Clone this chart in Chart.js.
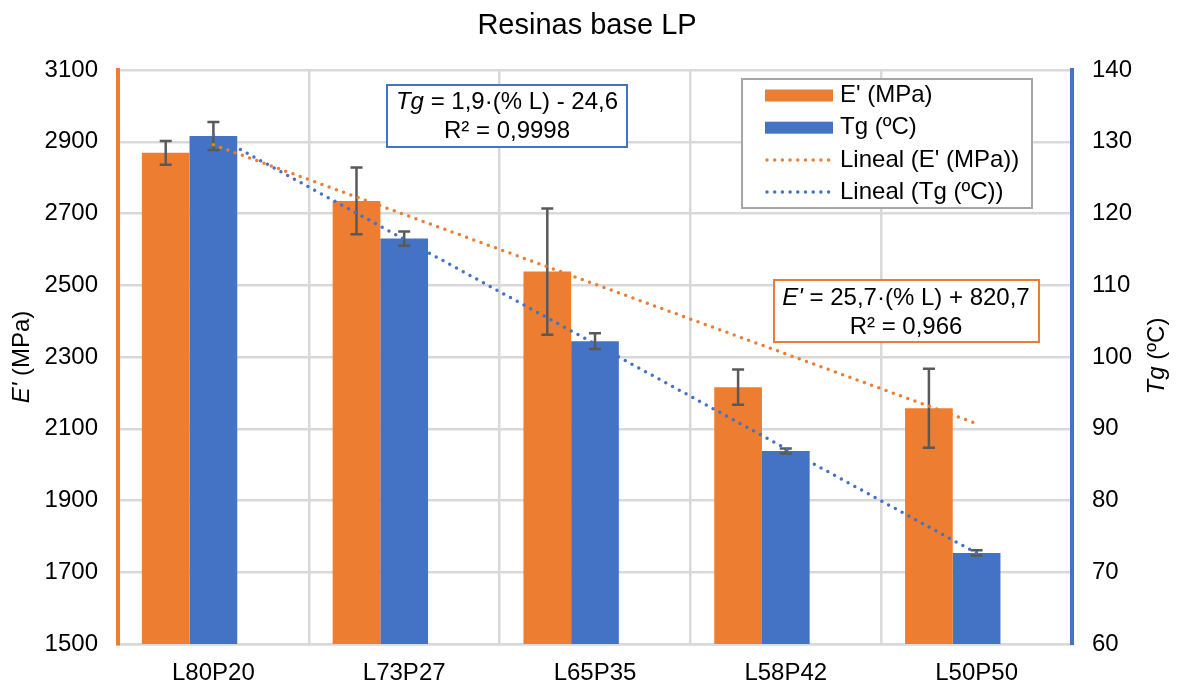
<!DOCTYPE html>
<html lang="es">
<head>
    <meta charset="UTF-8">
    <title>Resinas base LP</title>
    <script src="https://cdn.jsdelivr.net/npm/chart.js"></script>
    <style>
        html, body { margin: 0; padding: 0; background: #fff; }
        #wrap { width: 1179px; height: 686px; }
    </style>
</head>
<body>
    <div id="wrap">
        <canvas id="chart" width="1179" height="686"></canvas>
    </div>

    <script>
        // Data
        const categories = ['L80P20', 'L73P27', 'L65P35', 'L58P42', 'L50P50'];
        const modulusE = [2869, 2735, 2538, 2216, 2157];      // E' (MPa), left axis
        const modulusErr = [33, 93, 176, 49, 110];
        const tgValues = [130.8, 116.5, 102.2, 86.9, 72.7];   // Tg (ºC), right axis
        const tgErr = [1.95, 1.0, 1.1, 0.35, 0.35];
        const leftRange = [1500, 3100, 200];
        const rightRange = [60, 140, 10];

        const ORANGE = '#ED7D31';
        const BLUE = '#4472C4';
        const GRID = '#d9d9d9';
        const FONT = '"Liberation Sans", Arial, sans-serif';

        // Excel "Lineal" trendline: least squares over category index
        function linearFit(values) {
            const n = values.length;
            const xm = (n - 1) / 2;
            const ym = values.reduce((a, b) => a + b, 0) / n;
            let sxy = 0, sxx = 0;
            values.forEach((v, i) => { sxy += (i - xm) * (v - ym); sxx += (i - xm) * (i - xm); });
            const slope = sxy / sxx;
            return values.map((v, i) => ym + slope * (i - xm));
        }

        // draw text made of italic / normal parts, centered on cx
        function drawRich(ctx, parts, cx, cy, size) {
            let total = 0;
            parts.forEach(p => {
                ctx.font = (p.i ? 'italic ' : '') + size + 'px ' + FONT;
                p.w = ctx.measureText(p.t).width;
                total += p.w;
            });
            let x = cx - total / 2;
            ctx.textAlign = 'left';
            ctx.textBaseline = 'middle';
            parts.forEach(p => {
                ctx.font = (p.i ? 'italic ' : '') + size + 'px ' + FONT;
                ctx.fillText(p.t, x, cy);
                x += p.w;
            });
        }

        const errorBars = {
            id: 'errorBars',
            afterDatasetDraw(chart, args) {
                const errs = args.index === 0 ? modulusErr : args.index === 1 ? tgErr : null;
                if (!errs) return;
                const ds = chart.data.datasets[args.index];
                const scale = chart.scales[ds.yAxisID];
                const ctx = chart.ctx;
                ctx.save();
                ctx.strokeStyle = '#595959';
                ctx.lineWidth = 2.5;
                args.meta.data.forEach((bar, i) => {
                    const v = ds.data[i];
                    const top = scale.getPixelForValue(v + errs[i]);
                    const bot = scale.getPixelForValue(v - errs[i]);
                    ctx.beginPath();
                    ctx.moveTo(bar.x, top); ctx.lineTo(bar.x, bot);
                    ctx.moveTo(bar.x - 6, top); ctx.lineTo(bar.x + 6, top);
                    ctx.moveTo(bar.x - 6, bot); ctx.lineTo(bar.x + 6, bot);
                    ctx.stroke();
                });
                ctx.restore();
            }
        };

        const decorations = {
            id: 'decorations',
            afterDraw(chart) {
                const ctx = chart.ctx;
                ctx.save();
                ctx.fillStyle = '#000';

                // title
                ctx.font = '29px ' + FONT;
                ctx.textAlign = 'center';
                ctx.textBaseline = 'middle';
                ctx.fillText('Resinas base LP', 587, 26);

                // axis titles
                ctx.save();
                ctx.translate(22, 357);
                ctx.rotate(-Math.PI / 2);
                drawRich(ctx, [{ t: "E'", i: true }, { t: ' (MPa)' }], 0, 0, 24);
                ctx.restore();
                ctx.save();
                ctx.translate(1157, 356);
                ctx.rotate(-Math.PI / 2);
                drawRich(ctx, [{ t: 'Tg', i: true }, { t: ' (ºC)' }], 0, 0, 24);
                ctx.restore();

                // legend
                ctx.fillStyle = '#fff';
                ctx.fillRect(742, 79, 290, 129);
                ctx.strokeStyle = '#a6a6a6';
                ctx.lineWidth = 2;
                ctx.strokeRect(742, 79, 290, 129);
                const rows = [
                    { label: "E' (MPa)", color: ORANGE, bar: true },
                    { label: 'Tg (ºC)', color: BLUE, bar: true },
                    { label: "Lineal (E' (MPa))", color: ORANGE },
                    { label: 'Lineal (Tg (ºC))', color: BLUE }
                ];
                rows.forEach((r, k) => {
                    const y = 95.5 + k * 32.2;
                    if (r.bar) {
                        ctx.fillStyle = r.color;
                        ctx.fillRect(765, y - 6, 68, 12);
                    } else {
                        ctx.strokeStyle = r.color;
                        ctx.lineWidth = 3.5;
                        ctx.lineCap = 'round';
                        ctx.setLineDash([0, 7.7]);
                        ctx.beginPath();
                        ctx.moveTo(767, y); ctx.lineTo(833, y);
                        ctx.stroke();
                        ctx.setLineDash([]);
                    }
                    ctx.fillStyle = '#000';
                    ctx.font = '24px ' + FONT;
                    ctx.textAlign = 'left';
                    ctx.textBaseline = 'middle';
                    ctx.fillText(r.label, 840, y);
                });

                // trendline equation boxes
                ctx.fillStyle = '#fff';
                ctx.fillRect(387, 85, 240, 62);
                ctx.strokeStyle = BLUE;
                ctx.lineWidth = 2;
                ctx.strokeRect(387, 85, 240, 62);
                ctx.fillStyle = '#000';
                drawRich(ctx, [{ t: 'Tg', i: true }, { t: ' = 1,9·(% L) - 24,6' }], 507, 102, 24);
                drawRich(ctx, [{ t: 'R² = 0,9998' }], 507, 131, 24);

                ctx.fillStyle = '#fff';
                ctx.fillRect(774, 280, 265, 62);
                ctx.strokeStyle = ORANGE;
                ctx.strokeRect(774, 280, 265, 62);
                ctx.fillStyle = '#000';
                drawRich(ctx, [{ t: "E'", i: true }, { t: ' = 25,7·(% L) + 820,7' }], 906, 298, 24);
                drawRich(ctx, [{ t: 'R² = 0,966' }], 906, 327, 24);

                ctx.restore();
            }
        };

        const tickFont = { family: FONT, size: 24 };

        new Chart(document.getElementById('chart'), {
            type: 'bar',
            data: {
                labels: categories,
                datasets: [
                    { label: "E' (MPa)", data: modulusE, yAxisID: 'y', backgroundColor: ORANGE, order: 1 },
                    { label: 'Tg (ºC)', data: tgValues, yAxisID: 'y2', backgroundColor: BLUE, order: 1 },
                    { label: '', data: categories.map(() => null), yAxisID: 'y', order: 1 },
                    {
                        type: 'line', label: "Lineal (E' (MPa))", data: linearFit(modulusE), yAxisID: 'y',
                        borderColor: ORANGE, borderWidth: 3.5, borderDash: [0, 7.7], borderCapStyle: 'round',
                        pointRadius: 0, fill: false, tension: 0, order: 0
                    },
                    {
                        type: 'line', label: 'Lineal (Tg (ºC))', data: linearFit(tgValues), yAxisID: 'y2',
                        borderColor: BLUE, borderWidth: 3.5, borderDash: [0, 7.7], borderCapStyle: 'round',
                        pointRadius: 0, fill: false, tension: 0, order: 0
                    }
                ]
            },
            options: {
                responsive: false,
                animation: false,
                devicePixelRatio: 1,
                categoryPercentage: 0.75,
                barPercentage: 1,
                layout: { padding: { top: 70, left: 0, right: 0, bottom: 0 } },
                scales: {
                    x: {
                        afterFit: s => { s.height = 42; },
                        grid: { color: GRID, lineWidth: 2.5, drawTicks: false, offset: true },
                        border: { color: GRID, width: 2.5 },
                        ticks: { color: '#000', font: tickFont, padding: 15 }
                    },
                    y: {
                        position: 'left',
                        min: leftRange[0], max: leftRange[1],
                        afterFit: s => { s.width = 118; },
                        grid: { color: GRID, lineWidth: 2.5, drawTicks: false },
                        border: { color: ORANGE, width: 4 },
                        ticks: { stepSize: leftRange[2], color: '#000', font: tickFont, padding: 20, callback: v => String(v) }
                    },
                    y2: {
                        position: 'right',
                        min: rightRange[0], max: rightRange[1],
                        afterFit: s => { s.width = 107; },
                        grid: { drawOnChartArea: false, drawTicks: false },
                        border: { color: BLUE, width: 4 },
                        ticks: { stepSize: rightRange[2], color: '#000', font: tickFont, padding: 20, callback: v => String(v) }
                    }
                },
                plugins: {
                    legend: { display: false },
                    title: { display: false },
                    tooltip: { enabled: false }
                }
            },
            plugins: [errorBars, decorations]
        });
    </script>
</body>
</html>
